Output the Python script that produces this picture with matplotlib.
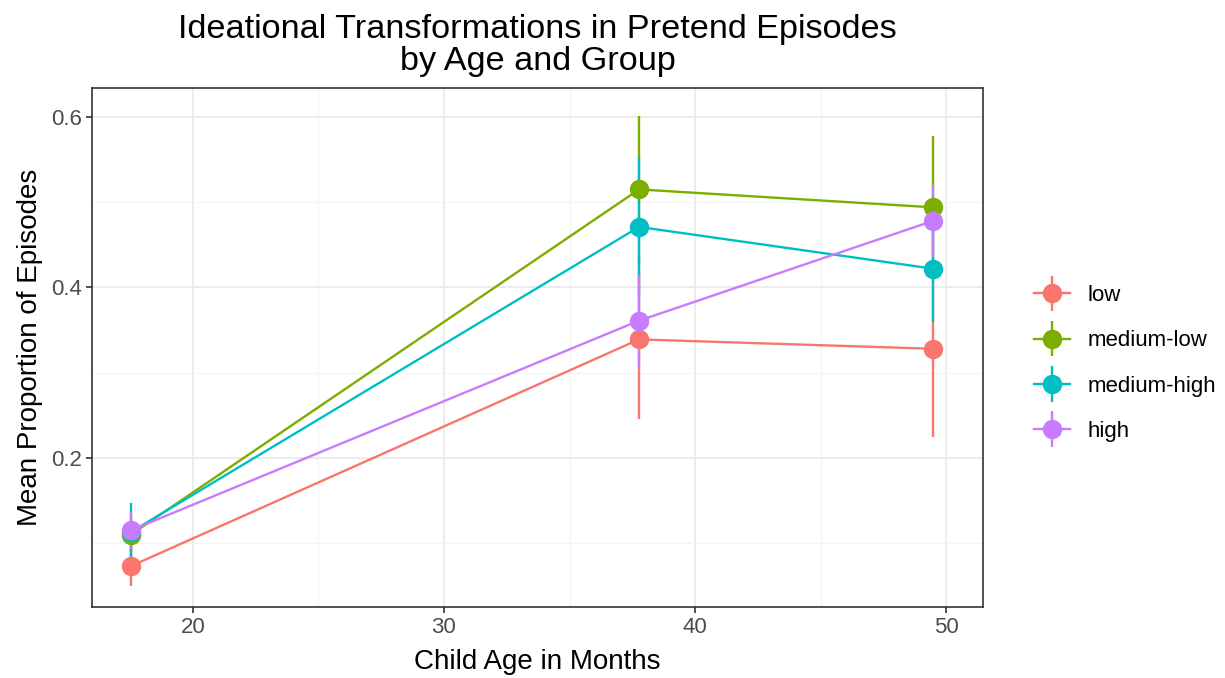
import matplotlib.pyplot as plt
from matplotlib.ticker import MultipleLocator
from matplotlib.legend_handler import HandlerErrorbar
from matplotlib.container import ErrorbarContainer

plt.rcParams['font.family'] = ['Liberation Sans', 'DejaVu Sans']

# ages (months) for the three visits
ages = [17.53, 37.77, 49.47]

groups = ['low', 'medium-low', 'medium-high', 'high']
colors = ['#F8766D', '#7CAE00', '#00BFC4', '#C77CFF']

# mean proportions per group
means_low = [0.073, 0.339, 0.328]
means_medlow = [0.110, 0.515, 0.494]
means_medhigh = [0.113, 0.471, 0.422]
means_high = [0.115, 0.361, 0.478]

# standard errors per group
se_low = [0.023, 0.093, 0.103]
se_medlow = [0.020, 0.086, 0.084]
se_medhigh = [0.034, 0.081, 0.062]
se_high = [0.022, 0.054, 0.042]

means = [means_low, means_medlow, means_medhigh, means_high]
ses = [se_low, se_medlow, se_medhigh, se_high]

fig = plt.figure(figsize=(12.25, 6.78), dpi=100)
ax = fig.add_axes([92/1225, 1-607/678, (983-92)/1225, (607-88)/678])

for g, c, m, s in zip(groups, colors, means, ses):
    ax.errorbar(ages, m, yerr=s, color=c, marker='o', markersize=13,
                linewidth=1.7, elinewidth=1.7, capsize=0, label=g)

ax.set_xlim(15.98, 51.47)
ax.set_ylim(0.025, 0.634)
ax.xaxis.set_major_locator(MultipleLocator(10))
ax.xaxis.set_minor_locator(MultipleLocator(5))
ax.yaxis.set_major_locator(MultipleLocator(0.2))
ax.yaxis.set_minor_locator(MultipleLocator(0.1))
ax.grid(which='major', color='#EBEBEB', linewidth=1.3)
ax.grid(which='minor', color='#F4F4F4', linewidth=0.8)
ax.set_axisbelow(True)
ax.tick_params(which='major', length=4, width=1.2, color='#333333',
               labelcolor='#4D4D4D', labelsize=16, pad=3)
ax.tick_params(which='minor', length=0)
for sp in ax.spines.values():
    sp.set_color('#333333')
    sp.set_linewidth(1.2)

ax.set_xlabel('Child Age in Months', fontsize=20, labelpad=8)
ax.set_ylabel('Mean Proportion of Episodes', fontsize=20, labelpad=6)
ax.set_title('Ideational Transformations in Pretend Episodes\nby Age and Group',
             fontsize=24.7, pad=13, linespacing=1.05)

leg = ax.legend(loc='center left', bbox_to_anchor=(1.035, 0.469), frameon=False,
                fontsize=16, handlelength=1.6, labelspacing=1.09, handletextpad=0.8,
                handler_map={ErrorbarContainer: HandlerErrorbar(xerr_size=0, yerr_size=0.8)})

fig.savefig('out.png', dpi=100)
